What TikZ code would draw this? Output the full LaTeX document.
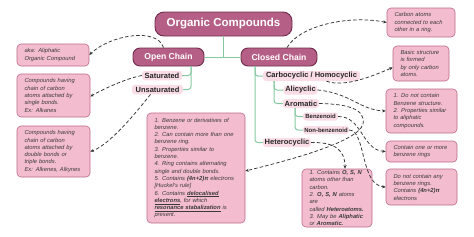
\documentclass[tikz,border=0pt]{standalone}
\usepackage{fontspec}
\setmainfont{Liberation Sans}
\usetikzlibrary{arrows.meta}
\definecolor{titlefill}{HTML}{B65F86}
\definecolor{titledraw}{HTML}{6E2C4A}
\definecolor{pillfill}{HTML}{F9DCE6}
\definecolor{boxfill}{HTML}{F3BCCF}
\definecolor{boxdraw}{HTML}{BC6A8C}
\definecolor{treegreen}{HTML}{86C9A0}
\definecolor{txt}{HTML}{3A3A3A}
\tikzset{
 titlebox/.style={draw=titledraw, line width=0.9pt, fill=titlefill, rounded corners=9pt, text=white, font=\bfseries\fontsize{11.5}{13}\selectfont, inner sep=0pt},
 chainbox/.style={titlebox, rounded corners=7pt, font=\bfseries\fontsize{8.6}{10}\selectfont},
 pill/.style={fill=pillfill, rounded corners=3pt, inner sep=0pt, text=black!85, font=\bfseries\fontsize{7.5}{9}\selectfont},
 smallpill/.style={pill, font=\bfseries\fontsize{6}{7}\selectfont},
 note/.style={draw=boxdraw, line width=0.6pt, fill=boxfill, rounded corners=4pt, inner xsep=7.5pt, inner ysep=0pt, align=left, text=txt, font=\itshape\fontsize{5.8}{7.3}\selectfont},
 tree/.style={draw=treegreen, line width=1pt, rounded corners=3pt},
 link/.style={draw=black!80, line width=0.75pt, dash pattern=on 3.5pt off 2.2pt, -{Stealth[length=3.5pt,width=3pt]}},
}
\begin{document}
\begin{tikzpicture}[x=1pt,y=-1pt]
\useasboundingbox (0,0) rectangle (474,236);
% main nodes
\node[titlebox, minimum width=137pt, minimum height=24pt] (title) at (223.5,24) {Organic Compounds};
\node[chainbox, minimum width=71pt, minimum height=18pt] (open) at (168.5,57) {Open Chain};
\node[chainbox, minimum width=76pt, minimum height=18pt] (closed) at (279,57) {Closed Chain};
\node[pill, minimum width=40pt, minimum height=9.5pt] (sat) at (162,75.5) {Saturated};
\node[pill, minimum width=51pt, minimum height=9.5pt] (unsat) at (157.5,89.5) {Unsaturated};
\node[pill, minimum width=97pt, minimum height=10pt] (carbo) at (311.5,76) {Carbocyclic / Homocyclic};
\node[pill, minimum width=34pt, minimum height=9pt] (ali) at (300.5,90) {Alicyclic};
\node[pill, minimum width=36pt, minimum height=9pt] (arom) at (301,103.5) {Aromatic};
\node[smallpill, minimum width=35pt, minimum height=8pt] (benz) at (320.5,116.5) {Benzenoid};
\node[smallpill, minimum width=46pt, minimum height=8pt] (nonbenz) at (326,130) {Non-benzenoid};
\node[pill, minimum width=48pt, minimum height=9pt] (het) at (287,142.5) {Heterocyclic};
% notes
\node[note, text width=57pt, minimum height=22pt] (akabox) at (53,55) {aka: Aliphatic\\Organic Compound};
\node[note, text width=58pt, minimum height=43pt] (satbox) at (53.5,95.5) {Compounds having\\chain of carbon\\atoms attached by\\single bonds.\\Ex: Alkanes};
\node[note, text width=58pt, minimum height=51pt] (unsatbox) at (53.5,151.5) {Compounds having\\chain of carbon\\atoms attached by\\double bonds or\\triple bonds.\\Ex: Alkenes, Alkynes};
\node[note, text width=83pt, minimum height=110pt] (midbox) at (196,168) {1. Benzene or derivatives of\\benzene.\\2. Can contain more than one\\benzene ring.\\3. Properties similar to\\benzene.\\4. Ring contains alternating\\single and double bonds.\\5. Contains \textbf{(4n+2)π} electrons\\{[}Huckel's rule{]}\\6. Contains \underline{\textbf{delocalised}}\\\underline{\textbf{electrons}}, for which\\\underline{\textbf{resonance stabalization}} is\\present.};
\node[note, text width=55pt, minimum height=58pt] (hetbox) at (337,198) {1. Contains \textbf{O, S, N}\\atoms other than\\carbon.\\2. \textbf{O, S, N} atoms are\\called \textbf{Heteroatoms.}\\3. May be \textbf{Aliphatic}\\or \textbf{Aromatic.}};
\node[note, text width=53pt, minimum height=29pt] (ringbox) at (421,22.5) {Carbon atoms\\connected to each\\other in a ring.};
\node[note, text width=41pt, minimum height=35pt] (basicbox) at (421,63.5) {Basic structure\\is formed\\by only carbon\\atoms.};
\node[note, text width=56pt, minimum height=44pt] (alibox) at (421.5,111) {1. Do not contain\\Benzene structure.\\2. Properties similar\\to aliphatic\\compounds.};
\node[note, text width=56pt, minimum height=21pt] (benzbox) at (421.5,151.5) {Contain one or more\\benzene rings};
\node[note, text width=56pt, minimum height=36pt] (nbbox) at (421.5,187) {Do not contain any\\benzene rings.\\Contains \textbf{(4n+2)π}\\electrons};
% tree
\coordinate (ocdown) at (191,66);
\coordinate (ccdown) at (255,66);
\coordinate (cbdown) at (274,81);
\coordinate (ardown) at (295,108);
\path[tree] (open.east) -- (closed.west);
\path[tree] (title.south) -- (title.south |- open.east);
\path[tree] (ocdown) |- (sat.east);
\path[tree] (ocdown) |- (unsat.east);
\path[tree] (ccdown) |- (carbo.west);
\path[tree] (ccdown) |- (het.west);
\path[tree] (cbdown) |- (ali.west);
\path[tree] (cbdown) |- (arom.west);
\path[tree] (ardown) |- (benz.west);
\path[tree] (ardown) |- (nonbenz.west);
% links
\path[link] ([xshift=-5pt]open.north) .. controls (157,27) and (110,35) .. (akabox.east);
\path[link] (sat.west) .. controls (128,78) and (105,88) .. ([yshift=-1pt]satbox.east);
\path[link] ([xshift=-7pt]unsat.south) .. controls (138,110) and (110,145) .. (unsatbox.east);
\path[link] ([xshift=8pt]closed.north) .. controls (300,25) and (350,15) .. (ringbox.west);
\path[link] ([xshift=15pt]carbo.south) .. controls (345,88) and (375,75) .. ([yshift=-4pt]basicbox.west);
\path[link] (ali.east) .. controls (350,93) and (360,110) .. (alibox.west);
\path[link] (arom.east) .. controls (345,104) and (366,108) .. (363,124) .. controls (358,142) and (290,160) .. ([yshift=-3pt]midbox.east);
\path[link] (benz.east) .. controls (362,116) and (362,150) .. (benzbox.west);
\path[link] (nonbenz.east) .. controls (366,130) and (360,185) .. (nbbox.west);
\path[link] (het.east) .. controls (335,142) and (345,150) .. ([xshift=8pt]hetbox.north);
\end{tikzpicture}
\end{document}
